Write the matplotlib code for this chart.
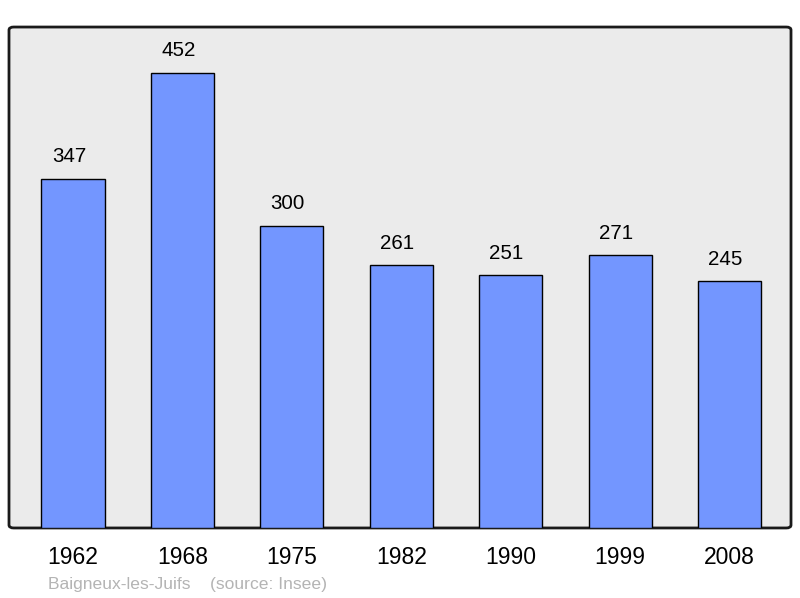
import matplotlib.pyplot as plt
from matplotlib.patches import FancyBboxPatch

plt.rcParams['font.family'] = ['Liberation Sans', 'DejaVu Sans']

years = ['1962', '1968', '1975', '1982', '1990', '1999', '2008']
population = [347, 452, 300, 261, 251, 271, 245]
commune = 'Baigneux-les-Juifs'
source = '(source: Insee)'

fig = plt.figure(figsize=(8, 5.98), dpi=100)
ax = fig.add_axes([0.01125, 0.1171, 0.9775, 0.8377])
ax.set_facecolor('none')

frame = FancyBboxPatch((0, 0), 1, 1, boxstyle='round,pad=0,rounding_size=0.006',
                       transform=ax.transAxes, facecolor='#ebebeb',
                       edgecolor='#1a1a1a', linewidth=2, zorder=0, clip_on=False)
ax.add_patch(frame)

x = range(len(years))
bars = ax.bar(x, population, width=0.576, color='#7396ff', edgecolor='black',
              linewidth=1, zorder=2)
for xi, v in zip(x, population):
    ax.annotate(str(v), (xi, v), xytext=(-3, 9), textcoords='offset points',
                ha='center', va='bottom', fontsize=14.8, color='black')

ax.set_xlim(-0.585, 6.562)
ax.set_ylim(0, 497.5)
ax.set_xticks(list(x))
ax.set_xticklabels(years, fontsize=16.5)
ax.tick_params(axis='x', length=0, pad=13)
ax.set_yticks([])
for s in ax.spines.values():
    s.set_visible(False)

fig.text(48 / 800, 1 - 584 / 598, commune + '    ' + source, fontsize=12.6,
         color='#b4b4b4', ha='left', va='center')

fig.savefig('out.png', dpi=100)
